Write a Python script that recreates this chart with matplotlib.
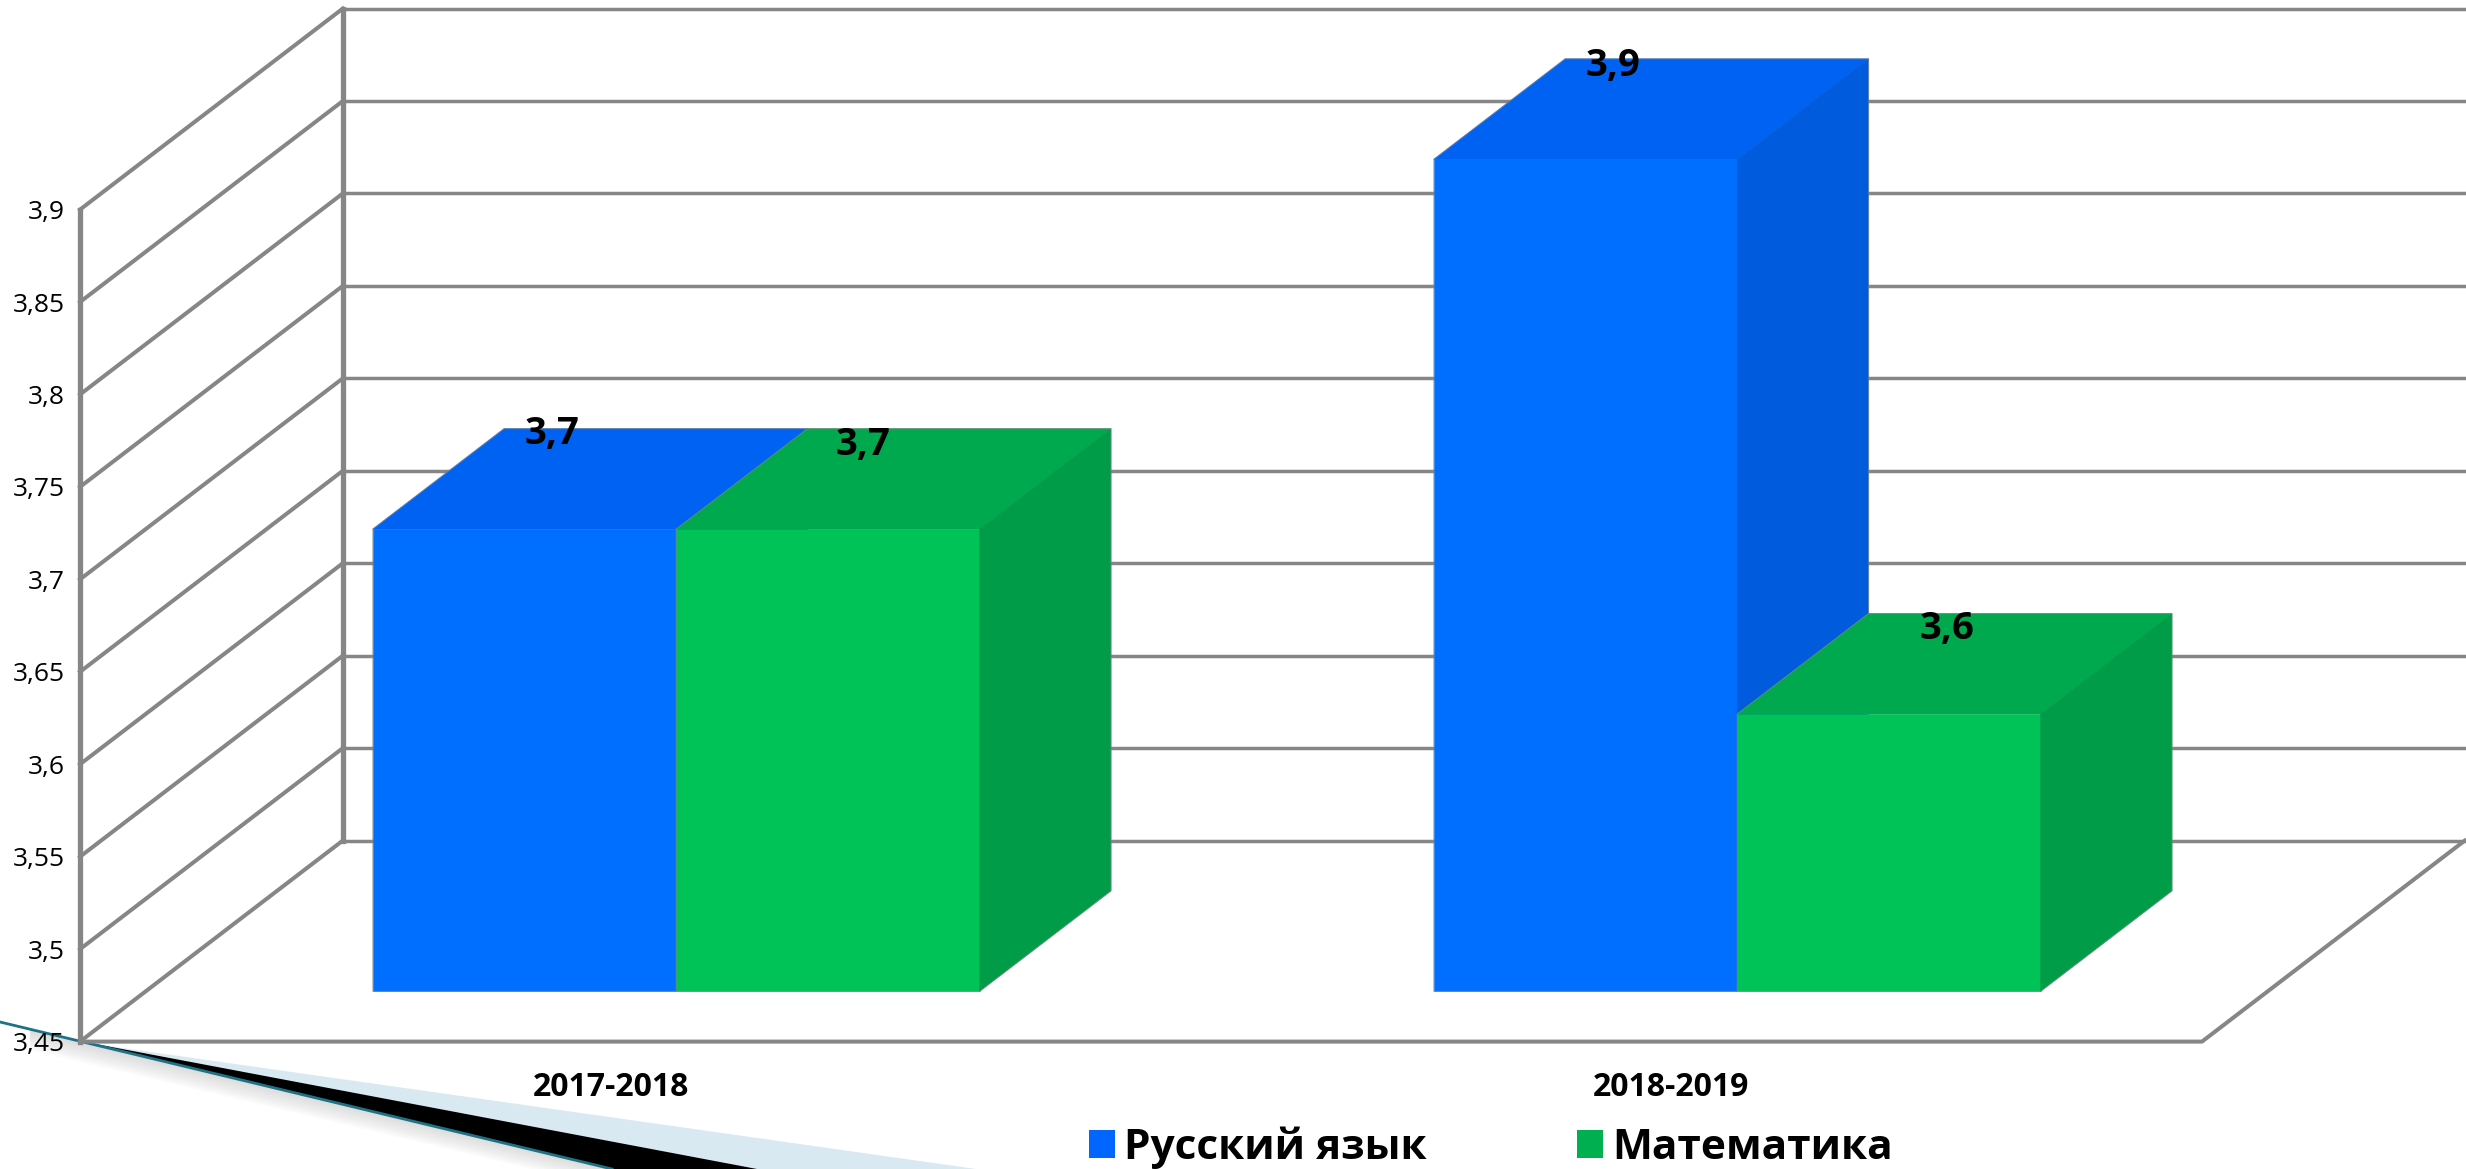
import numpy as np
from matplotlib import pyplot as plt
from matplotlib.patches import Patch, Polygon

plt.rcParams['font.family'] = ['Open Sans', 'DejaVu Sans']

years = ['2017-2018', '2018-2019']
russian = [3.7, 3.9]
maths = [3.7, 3.6]
value_ticks = [3.45, 3.5, 3.55, 3.6, 3.65, 3.7, 3.75, 3.8, 3.85, 3.9]
series_names = ['Русский язык', 'Математика']

GRID = '#868686'
BLUE = ('#006EFF', '#0062F2', '#005BDD')
GREEN = ('#00C358', '#00A84E', '#009C48')

# how far the back wall is shifted from the front plane, in data units
depth_x = 263 / 1062
depth_v = 201 / 832 * 0.45
bar_w = 0.286
v_min = value_ticks[0]
v_max = value_ticks[-1]
x_min, x_max = -0.5, 1.5


def project(x, v, d):
    return x + d * depth_x, v + d * depth_v


def draw_bar(ax, x0, value, colors):
    x1 = x0 + bar_w
    a = project(x0, v_min, 0.25)
    b = project(x1, v_min, 0.25)
    c = project(x1, value, 0.25)
    e = project(x0, value, 0.25)
    f = project(x0, value, 0.75)
    g = project(x1, value, 0.75)
    h = project(x1, v_min, 0.75)
    for pts, col in [([a, b, c, e], colors[0]), ([e, c, g, f], colors[1]), ([b, h, g, c], colors[2])]:
        ax.add_patch(Polygon(pts, closed=True, facecolor=col, edgecolor=col, lw=0.4, clip_on=False, zorder=3))
    ax.add_patch(Polygon([a, b, h, g, f, e], closed=True, fill=False, edgecolor=GRID, lw=0.8, alpha=0.6,
                         clip_on=False, zorder=3))


fig = plt.figure(figsize=(24.66, 11.69), dpi=100, facecolor='white')

# ribbon decoration bottom left, in pixels
deco = fig.add_axes([0, 0, 1, 1], zorder=0)
deco.set_xlim(0, 2466)
deco.set_ylim(1169, 0)
deco.axis('off')
for i in range(10):
    off = 2 + i * 2
    deco.add_patch(Polygon([(30, 1030), (612, 1169), (612 - off * 4, 1169), (30, 1030 + off)], closed=True,
                           facecolor='#909090', alpha=0.03, edgecolor='none'))
deco.add_patch(Polygon([(80, 1042), (976, 1169), (612, 1169)], closed=True, facecolor='#D8E9F1', edgecolor='none'))
deco.add_patch(Polygon([(85, 1042), (757, 1169), (612, 1169)], closed=True, facecolor='black', edgecolor='none'))
deco.plot([0, 612], [1022, 1169], color='#1D7286', lw=2)

ax = fig.add_axes([80 / 2466, (1169 - 1041.6) / 1169, 2122 / 2466, 832 / 1169], zorder=1)
ax.patch.set_alpha(0)
ax.set_xlim(x_min, x_max)
ax.set_ylim(v_min, v_max)
for s in ax.spines.values():
    s.set_visible(False)

# walls and grid
right_edge = x_max + depth_x + 0.003
for v in value_ticks:
    p0 = project(x_min, v, 0)
    p1 = project(x_min, v, 1)
    ax.plot([p0[0], p1[0]], [p0[1], p1[1]], color=GRID, lw=2.9, clip_on=False, zorder=1)
    ax.plot([p1[0], right_edge], [p1[1], p1[1]], color=GRID, lw=2.5, clip_on=False, zorder=1)
ax.plot([x_min, x_min], [v_min, v_max], color=GRID, lw=3.8, clip_on=False, zorder=2)
back = project(x_min, v_min, 1)
ax.plot([back[0], back[0]], [back[1], back[1] + v_max - v_min], color=GRID, lw=3.8, clip_on=False, zorder=2)
corner = project(x_max, v_min, 1)
ax.plot([x_min, x_max, corner[0]], [v_min, v_min, corner[1]], color=GRID, lw=2.9, clip_on=False, zorder=2)

# bars, blue first because green sits over its side
for i in range(len(years)):
    draw_bar(ax, i - bar_w, russian[i], BLUE)
    draw_bar(ax, i, maths[i], GREEN)

# value labels, shift in pixels from the front top middle of the bar
label_shift = [(28, 95), (35, 84), (28, 93), (58, 85)]
bars = [(0 - bar_w / 2, russian[0]), (0 + bar_w / 2, maths[0]), (1 - bar_w / 2, russian[1]), (1 + bar_w / 2, maths[1])]
for (x, v), (sx, sy) in zip(bars, label_shift):
    px, pv = project(x, v, 0.25)
    ax.annotate(str(v).replace('.', ','), (px, pv), xytext=(sx * 0.72, sy * 0.72), textcoords='offset points',
                ha='center', va='center', fontsize=27.5, fontweight='bold', color='black',
                annotation_clip=False, zorder=5)

ax.set_yticks(value_ticks)
ax.set_yticklabels([f'{v:g}'.replace('.', ',') for v in value_ticks], fontsize=19)
ax.set_xticks([0, 1])
ax.set_xticklabels(years, fontsize=23, fontweight='bold')
ax.tick_params(axis='both', length=0)
ax.tick_params(axis='y', pad=11)
ax.tick_params(axis='x', pad=21.5)

handles = [Patch(facecolor='#0066FF', edgecolor='none'), Patch(facecolor='#00B050', edgecolor='none')]
fig.legend(handles, series_names, ncols=2, frameon=False, loc='lower left',
           bbox_to_anchor=(1089 / 2466, 0.0),
           prop={'family': 'Open Sans', 'weight': 'bold', 'size': 30.5},
           handlelength=0.61, handleheight=0.61, handletextpad=0.22, columnspacing=3.55,
           borderpad=0, borderaxespad=0)

plt.savefig('out.png', dpi=100)
plt.close()
